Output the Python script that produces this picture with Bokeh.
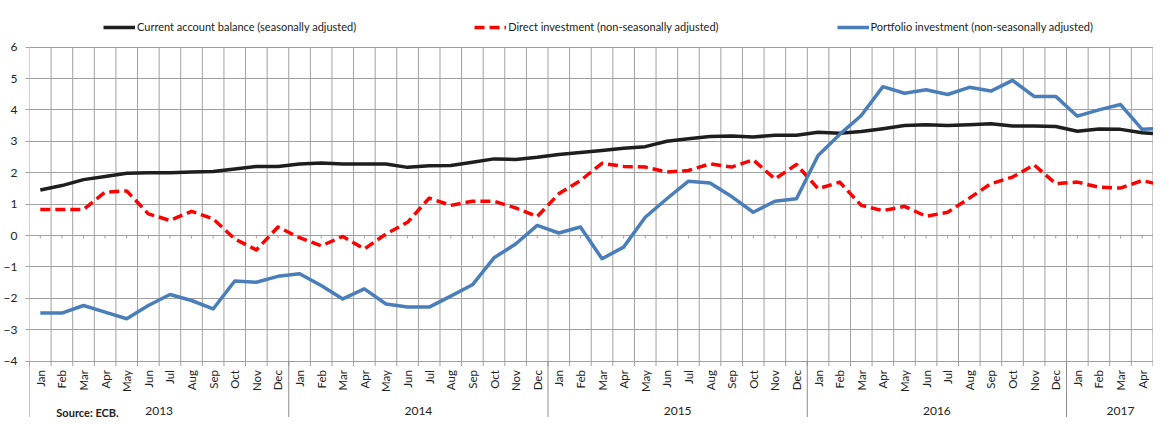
import math
from bokeh.plotting import figure
from bokeh.models import Range1d, FixedTicker, Legend, LegendItem
from bokeh.core.properties import value
from bokeh.embed import file_html
from bokeh.resources import INLINE

# ---- data ----
years = ["2013", "2014", "2015", "2016", "2017"]
year_months = [12, 12, 12, 12, 5]
month_names = ["Jan", "Feb", "Mar", "Apr", "May", "Jun",
               "Jul", "Aug", "Sep", "Oct", "Nov", "Dec"]
months = month_names * 4 + month_names[:5]

current_account = [
    1.45, 1.59, 1.78, 1.88, 1.98, 2.00, 2.00, 2.02, 2.04, 2.12, 2.20, 2.20,
    2.28, 2.31, 2.28, 2.28, 2.28, 2.17, 2.22, 2.23, 2.33, 2.44, 2.42, 2.49,
    2.58, 2.64, 2.71, 2.78, 2.83, 3.00, 3.08, 3.15, 3.17, 3.14, 3.19, 3.19,
    3.29, 3.26, 3.31, 3.40, 3.50, 3.53, 3.50, 3.53, 3.56, 3.49, 3.49, 3.47,
    3.32, 3.39, 3.38, 3.27, 3.22]
direct_investment = [
    0.83, 0.83, 0.83, 1.38, 1.42, 0.69, 0.48, 0.77, 0.53, -0.11, -0.46, 0.27,
    -0.07, -0.33, -0.03, -0.43, 0.05, 0.42, 1.19, 0.96, 1.09, 1.09, 0.88, 0.60,
    1.33, 1.75, 2.30, 2.20, 2.18, 2.02, 2.07, 2.28, 2.18, 2.41, 1.80, 2.26,
    1.49, 1.70, 0.96, 0.79, 0.93, 0.61, 0.74, 1.19, 1.65, 1.86, 2.25, 1.65,
    1.70, 1.54, 1.51, 1.75, 1.59]
portfolio_investment = [
    -2.47, -2.47, -2.23, -2.44, -2.65, -2.23, -1.88, -2.07, -2.34, -1.45, -1.49, -1.30,
    -1.22, -1.59, -2.02, -1.70, -2.18, -2.28, -2.28, -1.93, -1.57, -0.71, -0.27, 0.32,
    0.08, 0.27, -0.74, -0.37, 0.58, 1.17, 1.73, 1.67, 1.24, 0.74, 1.09, 1.17,
    2.55, 3.22, 3.82, 4.74, 4.53, 4.64, 4.49, 4.72, 4.60, 4.94, 4.43, 4.43,
    3.80, 4.00, 4.17, 3.38, 3.42]
y_ticks = [-4, -3, -2, -1, 0, 1, 2, 3, 4, 5, 6]

# ---- derived positions ----
n = len(months)
xc = [i + 0.5 for i in range(n)]
bounds = list(range(n + 1))
year_starts = []
s = 0
for m in year_months:
    year_starts.append(s)
    s += m
year_centers = [st + m / 2 for st, m in zip(year_starts, year_months)]

PX = 31.4   # px per y unit
Y0 = 235    # pixel row of y = 0
H = 417
ymin, ymax = -4, 6
FONT = value("Lato")
GRID = "#a0a0a0"
TXT = "#222222"

p = figure(width=1153, height=H,
           x_range=Range1d(0, 1130 / 21.72),
           y_range=Range1d((Y0 - H) / PX, Y0 / PX),
           output_backend="svg", toolbar_location=None,
           x_axis_location=None, min_border=0, min_border_left=23)
p.outline_line_color = None
for g in p.grid:
    if g.dimension == 0:
        g.visible = False
p.ygrid.grid_line_color = GRID
p.ygrid.grid_line_width = 1

ax = p.yaxis[0]
ax.ticker = FixedTicker(ticks=y_ticks)
ax.axis_line_color = None
ax.major_tick_out = 4
ax.major_tick_in = 0
ax.major_tick_line_color = GRID
ax.minor_tick_line_color = None
ax.major_label_standoff = 8
ax.major_label_text_font = "Lato"
ax.major_label_text_font_size = "12px"
ax.major_label_text_color = TXT

# vertical gridlines at month boundaries
p.segment(x0=bounds, y0=[ymin] * len(bounds), x1=bounds, y1=[ymax] * len(bounds),
          line_color=GRID, line_width=1)
# month tick marks below axis
p.segment(x0=bounds, y0=[ymin] * len(bounds), x1=bounds,
          y1=[ymin - 5 / PX] * len(bounds), line_color=GRID, line_width=1)
# year dividers
yb = year_starts + [n]
p.segment(x0=yb, y0=[ymin] * len(yb), x1=yb, y1=[ymin - 70 / PX] * len(yb),
          line_color="#8c8c8c", line_width=1)
# small ticks on zero line
p.segment(x0=xc, y0=[0] * n, x1=xc, y1=[-3 / PX] * n, line_color=GRID, line_width=1)

# month labels
p.text(x=xc, y=[ymin - 9 / PX] * n, text=months, angle=math.pi / 2,
       text_align="right", text_baseline="middle", text_font=FONT,
       text_font_size="11.5px", text_color=TXT)
# year labels
p.text(x=year_centers, y=[(Y0 - 410) / PX] * len(years), text=years,
       text_align="center", text_baseline="middle", text_font=FONT,
       text_font_size="12px", text_color=TXT)
# source
p.text(x=[(58 - 31) / 21.72], y=[(Y0 - 405) / PX], text=["Source: ECB."],
       text_align="left", text_baseline="top", text_font=FONT,
       text_font_size="11px", text_color=TXT, text_font_style="bold")

r1 = p.line(xc, current_account, line_color="#1e1e1e", line_width=3.5, line_join="round")
r2 = p.line(xc, direct_investment, line_color="#ff0000", line_width=3.5,
            line_dash="10 5", line_join="round")
r3 = p.line(xc, portfolio_investment, line_color="#4a7ebb", line_width=3.5, line_join="round")

legend = Legend(items=[
    LegendItem(label="Current account balance (seasonally adjusted)", renderers=[r1]),
    LegendItem(label="Direct investment (non-seasonally adjusted)", renderers=[r2]),
    LegendItem(label="Portfolio investment (non-seasonally adjusted)", renderers=[r3]),
], location=(74, H - 33), orientation="horizontal", spacing=118, glyph_width=32,
    glyph_height=12, label_standoff=2, padding=0, margin=0,
    border_line_color=None, background_fill_alpha=0,
    label_text_font="Lato", label_text_font_size="11px", label_text_color=TXT)
p.add_layout(legend)

open("out.html", "w").write(file_html(p, INLINE))
